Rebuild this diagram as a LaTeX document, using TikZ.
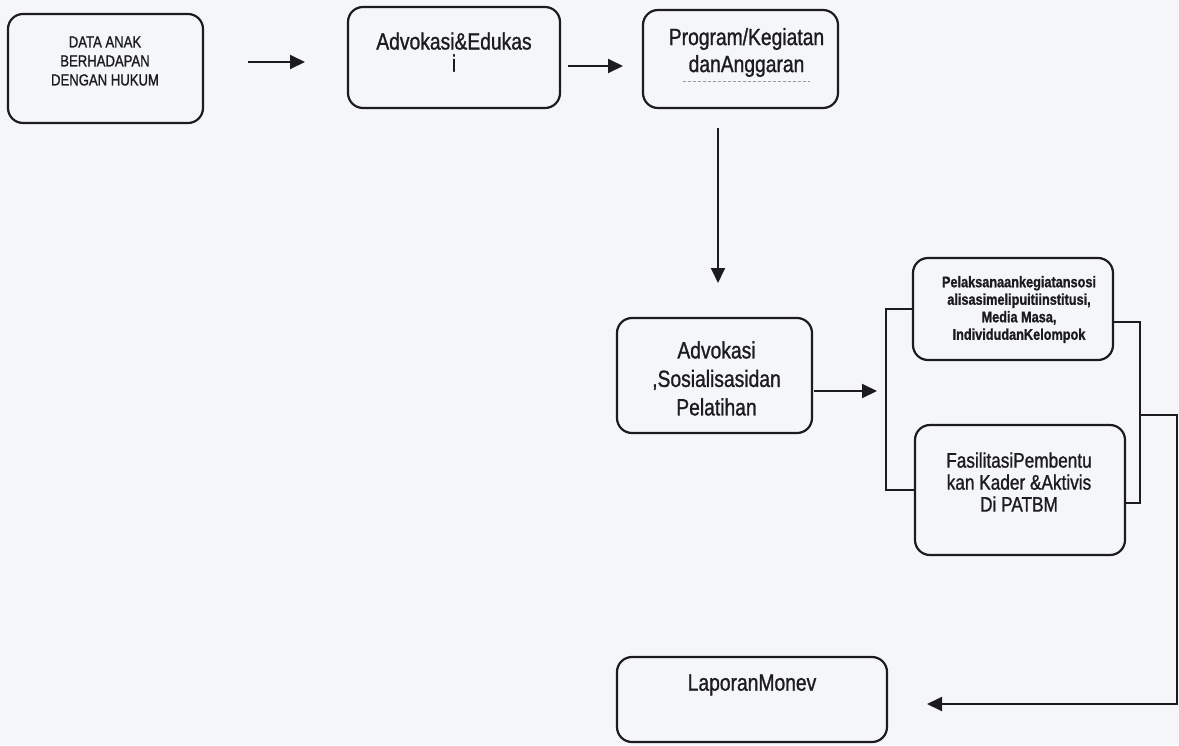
\documentclass[tikz,border=0pt]{standalone}
\usepackage{fontspec}
\setmainfont{Liberation Sans}
\newfontfamily\narrowsans[FakeStretch=0.82,FakeBold=1.1]{Liberation Sans}
\usetikzlibrary{arrows.meta,calc}
\definecolor{paper}{RGB}{245,246,250}
\definecolor{ink}{RGB}{28,28,30}
\begin{document}
\begin{tikzpicture}[x=1pt,y=-1pt,
  box/.style={draw=ink, line width=2.2pt, rounded corners=15pt, inner sep=0pt},
  txt/.style={text=ink, align=center, inner sep=0pt},
  link/.style={draw=ink, line width=1.9pt},
  arr/.style={link, -{Triangle[length=15pt,width=14pt]}}]
% page
\fill[paper] (0,0) rectangle (1179,745);
\useasboundingbox (0,0) rectangle (1179,745);

% boxes
\node[box, minimum width=195pt, minimum height=109pt] (b1) at (105.5,68.5) {};
\node[box, minimum width=212pt, minimum height=101pt] (b2) at (454,57.5) {};
\node[box, minimum width=195pt, minimum height=98pt]  (b3) at (740.5,59) {};
\node[box, minimum width=195pt, minimum height=115pt] (b4) at (714.5,375.5) {};
\node[box, minimum width=200pt, minimum height=102pt] (b5) at (1013,309) {};
\node[box, minimum width=210pt, minimum height=130pt] (b6) at (1020,490) {};
\node[box, minimum width=270pt, minimum height=85pt]  (b7) at (752,699.5) {};

% box texts
\node[txt, font=\narrowsans\fontsize{16}{19}\selectfont] (t1) at (105,61)
  {DATA ANAK\\BERHADAPAN\\DENGAN HUKUM};
\node[txt, font=\narrowsans\fontsize{23.5}{22}\selectfont] (t2) at (454,52)
  {Advokasi\&Edukas\\i};
\node[txt, font=\narrowsans\fontsize{23.5}{27}\selectfont] (t3) at (746.5,52.5)
  {Program/Kegiatan\\danAnggaran};
\node[txt, font=\narrowsans\fontsize{23.5}{28.5}\selectfont] (t4) at (716.5,378.5)
  {Advokasi\\,Sosialisasidan\\Pelatihan};
\node[txt, font=\narrowsans\bfseries\fontsize{15.5}{17.5}\selectfont] (t5) at (1019,309.5)
  {Pelaksanaankegiatansosi\\alisasimelipuitiinstitusi,\\Media Masa,\\IndividudanKelompok};
\node[txt, font=\narrowsans\fontsize{21}{22}\selectfont] (t6) at (1019,482)
  {FasilitasiPembentu\\kan Kader \&Aktivis\\Di PATBM};
\node[txt, font=\narrowsans\fontsize{23.5}{28}\selectfont] (t7) at (752,685)
  {LaporanMonev};

% faint dotted underline printed beneath the second line of t3
\draw[ink!45, line width=1pt, dash pattern=on 3pt off 2pt]
  ($(t3.south west)+(14,4)$) -- ($(t3.south east)+(-14,4)$);

% free arrow ends between the boxes
\coordinate (a1s) at (248,62);   \coordinate (a1e) at (305,62);
\coordinate (a2s) at (568,66);   \coordinate (a2e) at (623,66);
\coordinate (a3s) at (718,128);  \coordinate (a3e) at (718,283);
\coordinate (a4s) at (814,391);  \coordinate (a4e) at (877,391);
\coordinate (rmid) at (1140,415);
\coordinate (redge) at (1177,415);
\coordinate (rlow) at (1177,704);
\coordinate (a5e) at (927,704);

% connectors
\draw[arr] (a1s) -- (a1e);
\draw[arr] (a2s) -- (a2e);
\draw[arr] (a3s) -- (a3e);
\draw[arr] (a4s) -- (a4e);

% bracket joining the two activity boxes
\draw[link] (b5.west) -- ++(-26,0) |- (b6.west);
\draw[link] ($(b5.east)+(0,13)$) -| (rmid) |- ($(b6.east)+(0,13)$);

% return line to the report box
\draw[arr] (rmid) -- (redge) -- (rlow) -- (a5e);
\end{tikzpicture}
\end{document}
